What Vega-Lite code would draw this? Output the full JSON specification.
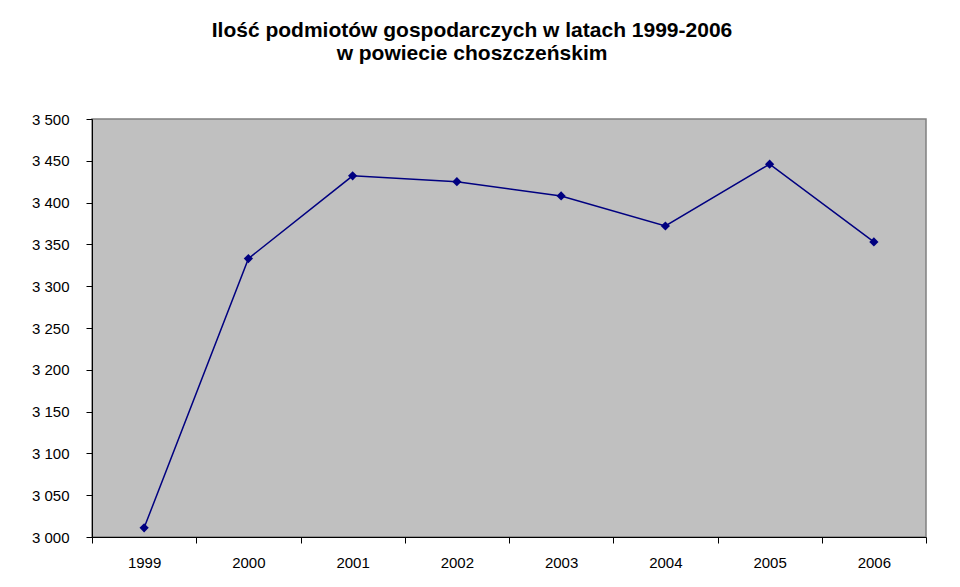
{
  "$schema": "https://vega.github.io/schema/vega-lite/v6.json",
  "autosize": {"type": "none"},
  "width": 834,
  "height": 418,
  "padding": {"left": 92, "top": 119, "right": 34, "bottom": 50},
  "background": "white",
  "title": {
    "text": ["Ilość podmiotów gospodarczych w latach 1999-2006", "w powiecie choszczeńskim"],
    "font": "Liberation Sans",
    "fontSize": 21,
    "fontWeight": "bold",
    "color": "black",
    "anchor": "middle",
    "dx": -37,
    "offset": 48,
    "lineHeight": 23
  },
  "data": {
    "values": [
      {"rok": "1999", "ilosc": 3011},
      {"rok": "2000", "ilosc": 3333},
      {"rok": "2001", "ilosc": 3432},
      {"rok": "2002", "ilosc": 3425},
      {"rok": "2003", "ilosc": 3408},
      {"rok": "2004", "ilosc": 3372},
      {"rok": "2005", "ilosc": 3446},
      {"rok": "2006", "ilosc": 3353}
    ]
  },
  "config": {
    "view": {"fill": "#C0C0C0", "stroke": "#808080", "strokeWidth": 1.5},
    "axis": {
      "labelFont": "Liberation Sans",
      "labelFontSize": 15,
      "labelColor": "black",
      "domainColor": "black",
      "tickColor": "black",
      "grid": false,
      "title": null
    }
  },
  "layer": [
    {
      "mark": {"type": "line", "color": "#000080", "strokeWidth": 1.5},
      "encoding": {
        "x": {"field": "rok", "type": "ordinal", "scale": {"type": "band", "paddingInner": 0, "paddingOuter": 0},
          "axis": {"labelAngle": 0, "tickBand": "extent", "tickSize": 6, "labelPadding": 12}},
        "y": {"field": "ilosc", "type": "quantitative", "scale": {"domain": [3000, 3500], "nice": false, "zero": false},
          "axis": {"values": [3000, 3050, 3100, 3150, 3200, 3250, 3300, 3350, 3400, 3450, 3500],
            "labelExpr": "replace(format(datum.value, ','), ',', ' ')", "tickSize": 6, "labelPadding": 17}}
      }
    },
    {
      "mark": {"type": "point", "shape": "diamond", "filled": true, "color": "#000080", "size": 85, "opacity": 1},
      "encoding": {
        "x": {"field": "rok", "type": "ordinal"},
        "y": {"field": "ilosc", "type": "quantitative"}
      }
    }
  ]
}
